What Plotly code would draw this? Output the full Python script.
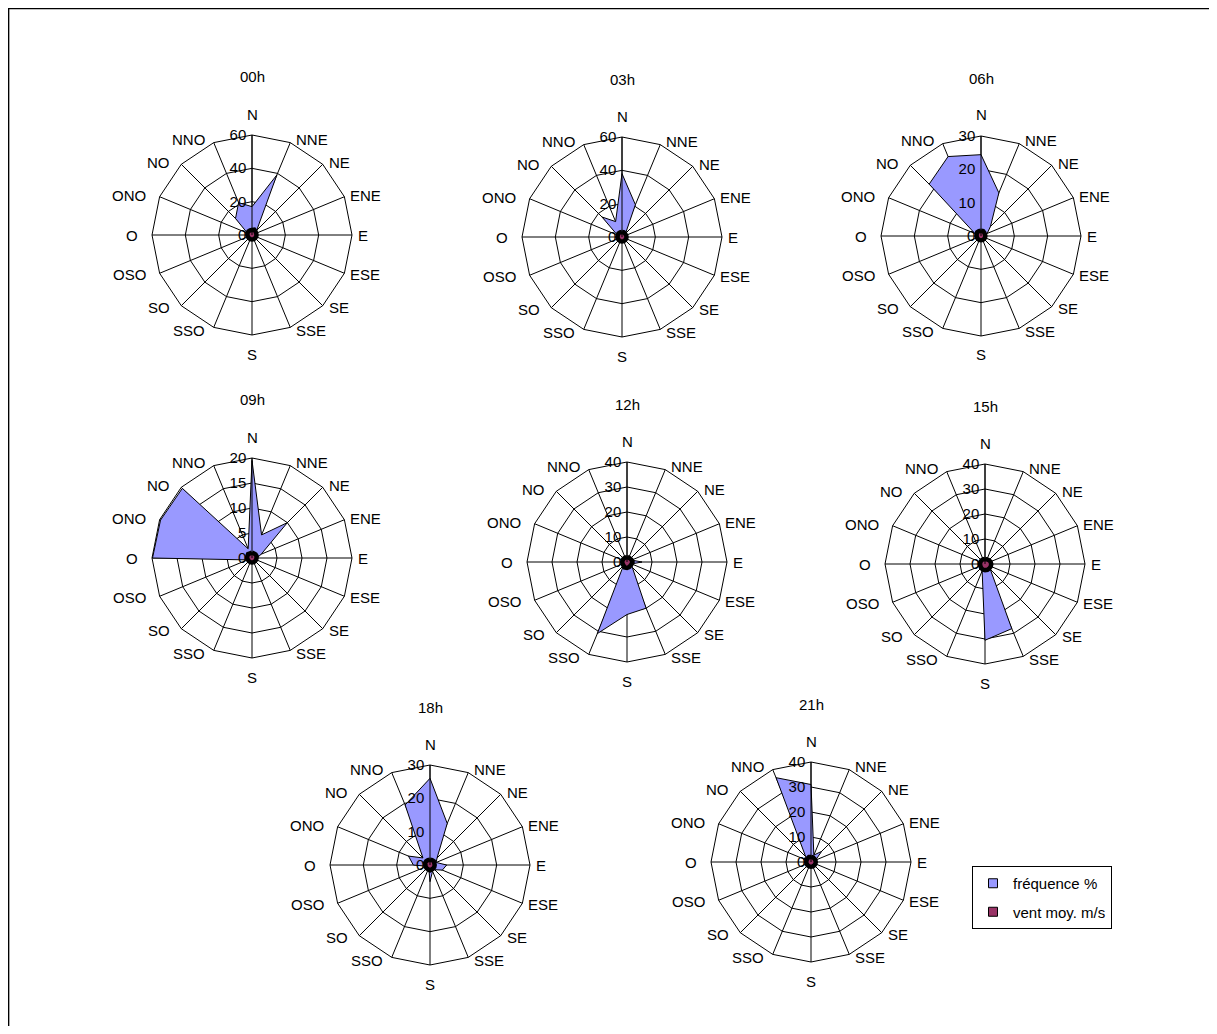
import math
import plotly.graph_objects as go

# ---------------- data ----------------
directions = ["N", "NNE", "NE", "ENE", "E", "ESE", "SE", "SSE",
              "S", "SSO", "SO", "OSO", "O", "ONO", "NO", "NNO"]

hours = ["00h", "03h", "06h", "09h", "12h", "15h", "18h", "21h"]

freq_00h = [17, 39, 4, 2, 1, 1, 1, 1, 1, 1, 1, 1, 2, 3, 14, 21]
freq_03h = [38, 21, 3, 2, 1, 1, 1, 1, 1, 1, 1, 1, 2, 3, 17, 10]
freq_06h = [24.4, 14, 4, 2, 1, 1, 1, 1, 1, 1, 1, 1, 1, 2, 22, 25.8]
freq_09h = [19.5, 5, 10, 2, 1, 1, 1, 1, 1, 1, 1, 1, 19.9, 19.8, 19.7, 2]
freq_12h = [1, 1, 2, 2, 6, 2, 3, 20, 21, 31, 2, 1, 1, 1, 1, 1]
freq_15h = [1, 1, 1, 1, 2, 2, 3, 28, 30.5, 3, 1, 1, 1, 1, 1, 1]
freq_18h = [26, 13.5, 3, 2, 5, 4, 2, 2, 5, 1, 1, 1, 5, 7, 3, 19.5]
freq_21h = [31, 3, 6, 2, 1, 1, 1, 1, 1, 1, 1, 1, 2, 3, 3, 36.5]

vent_00h = [3.0, 3.5, 3.0, 2.7, 2.7, 2.7, 2.7, 2.7, 2.7, 2.7, 2.7, 2.7, 2.7, 3.0, 3.0, 3.0]
vent_03h = [3.0, 3.0, 2.7, 2.7, 2.7, 2.7, 2.7, 2.7, 2.7, 2.7, 2.7, 2.7, 2.7, 2.7, 3.0, 3.0]
vent_06h = [1.6, 1.6, 1.4, 1.3, 1.3, 1.3, 1.3, 1.3, 1.3, 1.3, 1.3, 1.3, 1.3, 1.4, 1.6, 1.6]
vent_09h = [1.1, 1.0, 1.0, 1.0, 0.9, 0.9, 0.9, 0.9, 0.9, 0.9, 0.9, 0.9, 1.0, 1.0, 1.1, 1.0]
vent_12h = [1.9, 1.9, 1.9, 2.0, 2.2, 2.0, 2.0, 2.2, 2.4, 2.4, 2.0, 1.9, 1.9, 1.9, 1.9, 1.9]
vent_15h = [2.0, 2.0, 2.2, 2.4, 2.5, 2.5, 2.5, 2.5, 2.5, 2.4, 2.2, 2.0, 2.0, 2.0, 2.0, 2.0]
vent_18h = [1.6, 1.6, 1.6, 1.4, 1.4, 1.4, 1.4, 1.4, 1.6, 1.4, 1.4, 1.4, 1.4, 1.6, 1.6, 1.6]
vent_21h = [2.0, 2.0, 1.9, 1.9, 1.9, 1.9, 1.9, 1.9, 1.9, 1.9, 1.9, 1.9, 1.9, 1.9, 2.0, 2.2]

freq_series = [freq_00h, freq_03h, freq_06h, freq_09h, freq_12h, freq_15h, freq_18h, freq_21h]
vent_series = [vent_00h, vent_03h, vent_06h, vent_09h, vent_12h, vent_15h, vent_18h, vent_21h]

radial_max = [60, 60, 30, 20, 40, 40, 30, 40]
radial_step = [20, 20, 10, 5, 10, 10, 10, 10]

series_names = ["fréquence %", "vent moy. m/s"]

# ---------------- layout ----------------
OFF = 8                      # page body margin
W, H = 1217 - 2 * OFF, 1034 - 2 * OFF
R = 100
centers_page = [(252, 235), (622, 237), (981, 236),
                (252, 558), (627, 562), (985, 564),
                (430, 865), (811, 862)]

FONT = "Liberation Sans, Arial, sans-serif"
FREQ_COLOR = "#9999FF"
VENT_COLOR = "#993366"
LABEL_SIZE = 15


def px(x):
    return (x - OFF) / W


def py(y):
    return 1 - (y - OFF) / H


fig = go.Figure()
layout_polars = {}
annotations = []
n_dir = len(directions)

for i, (hour, fvals, vvals, rmax, step, (cx, cy)) in enumerate(
        zip(hours, freq_series, vent_series, radial_max, radial_step, centers_page)):
    key = "polar" if i == 0 else f"polar{i+1}"
    theta = directions + [directions[0]]
    fig.add_trace(go.Scatterpolar(
        r=fvals + [fvals[0]], theta=theta, subplot=key,
        mode="lines", fill="toself", fillcolor=FREQ_COLOR,
        line=dict(color="black", width=1),
        name=series_names[0], showlegend=False, hoverinfo="r+theta"))
    fig.add_trace(go.Scatterpolar(
        r=vvals + [vvals[0]], theta=theta, subplot=key,
        mode="lines", fill="toself", fillcolor=VENT_COLOR,
        line=dict(color="black", width=4.5),
        name=series_names[1], showlegend=False, hoverinfo="r+theta"))

    layout_polars[key] = dict(
        domain=dict(x=[px(cx - R), px(cx + R)], y=[py(cy + R), py(cy - R)]),
        bgcolor="white",
        gridshape="linear",
        angularaxis=dict(
            type="category", categoryarray=directions,
            rotation=90, direction="clockwise",
            showline=True, linecolor="black", linewidth=1,
            showgrid=True, gridcolor="black", gridwidth=1,
            ticks="", showticklabels=False),
        radialaxis=dict(
            range=[0, rmax], tick0=0, dtick=step, angle=90, tickangle=90,
            side="counterclockwise",
            showline=True, linecolor="black", linewidth=1,
            showgrid=True, gridcolor="black", gridwidth=1,
            ticks="", tickfont=dict(family=FONT, size=LABEL_SIZE, color="black")),
    )
    annotations.append(dict(
        text=hour, x=px(cx), y=py(cy - 158), xref="paper", yref="paper",
        showarrow=False, xanchor="center", yanchor="middle",
        font=dict(family=FONT, size=15, color="black")))

    # direction labels placed beside the outer vertices, Excel style
    for k, d in enumerate(directions):
        a = 2 * math.pi * k / n_dir
        vx = cx + R * math.sin(a)
        vy = cy - R * math.cos(a)
        if k == 0:
            lx, ly, anc = vx, vy - 21, "center"
        elif k == n_dir // 2:
            lx, ly, anc = vx, vy + 19, "center"
        elif k < n_dir // 2:
            lx, ly, anc = vx + 4, vy - 3 * math.cos(a), "left"
        else:
            lx, ly, anc = vx - (4 + 8 * abs(math.sin(a))), vy - 3 * math.cos(a), "right"
        annotations.append(dict(
            text=d, x=px(lx), y=py(ly), xref="paper", yref="paper",
            showarrow=False, xanchor=anc, yanchor="middle",
            font=dict(family=FONT, size=LABEL_SIZE, color="black")))

# legend entries (square swatches like the reference)
for name, color in zip(series_names, [FREQ_COLOR, VENT_COLOR]):
    fig.add_trace(go.Scatterpolar(
        r=[None], theta=[None], subplot="polar", mode="markers",
        marker=dict(symbol="square", size=9, color=color,
                    line=dict(color="black", width=1)),
        name=name, legendgroup=name, showlegend=True, hoverinfo="skip"))

fig.update_layout(
    width=W, height=H,
    margin=dict(l=0, r=0, t=0, b=0),
    paper_bgcolor="white", plot_bgcolor="white",
    font=dict(family=FONT, size=14, color="black"),
    annotations=annotations,
    shapes=[dict(type="rect", xref="paper", yref="paper",
                 x0=0.6 / W, x1=(1210 - OFF) / W,
                 y0=1 - (1028 - OFF) / H, y1=1 - 0.6 / H,
                 line=dict(color="black", width=1.5))],
    legend=dict(x=px(972), y=py(866), xanchor="left", yanchor="top",
                bordercolor="black", borderwidth=1, bgcolor="white",
                font=dict(family=FONT, size=15, color="black"),
                tracegroupgap=6, itemwidth=30),
    showlegend=True,
    **layout_polars,
)

fig.write_html("out.html")
